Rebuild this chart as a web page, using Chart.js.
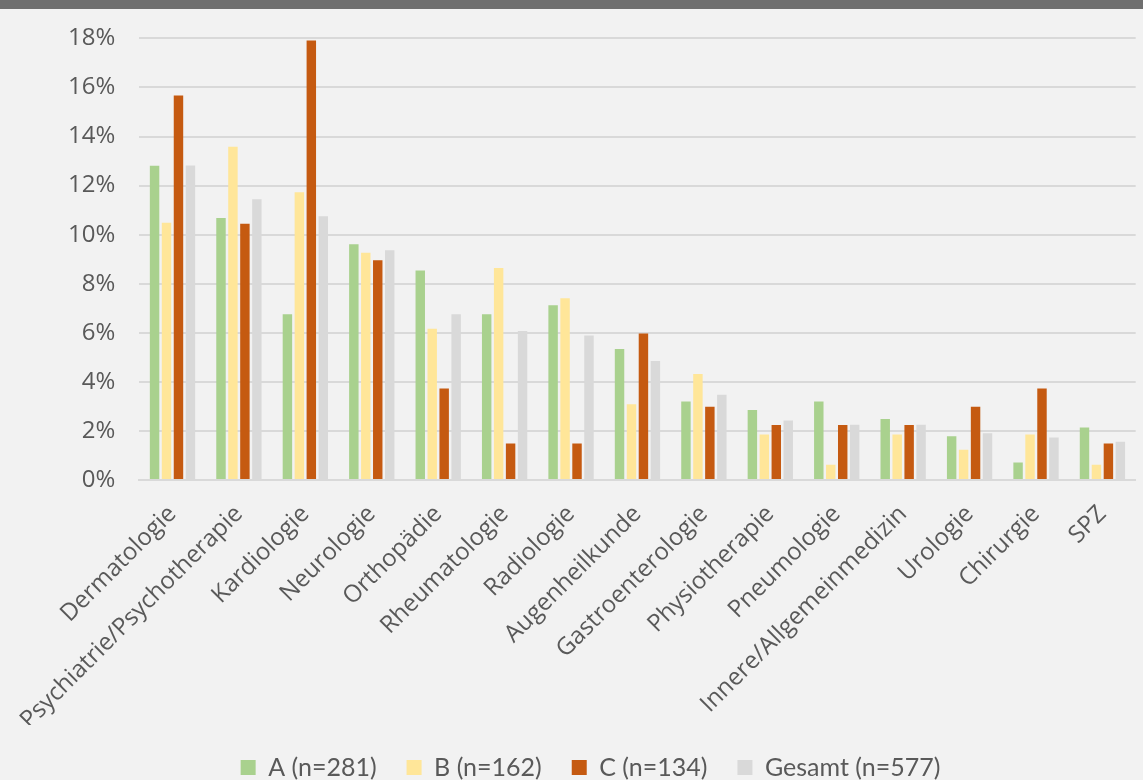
<!DOCTYPE html>
<html>
<head>
<meta charset="utf-8">
<script src="https://cdn.jsdelivr.net/npm/chart.js@4.4.1/dist/chart.umd.min.js"></script>
<style>
  html, body { margin: 0; padding: 0; background: #f2f2f2; }
  #wrap { position: relative; width: 1143px; height: 780px; overflow: hidden; }
  #band { position: absolute; left: 0; top: 0; width: 1143px; height: 9px; background: #6f6f6f; }
  #chart { position: absolute; left: 0; top: 0; }
</style>
</head>
<body>
<div id="wrap">
  <canvas id="chart" width="1143" height="780"></canvas>
  <div id="band"></div>
</div>
<script>
var categories = ['Dermatologie', 'Psychiatrie/Psychotherapie', 'Kardiologie', 'Neurologie', 'Orthopädie',
  'Rheumatologie', 'Radiologie', 'Augenheilkunde', 'Gastroenterologie', 'Physiotherapie',
  'Pneumologie', 'Innere/Allgemeinmedizin', 'Urologie', 'Chirurgie', 'SPZ']

// shares in percent per group
var groupA = [12.81, 10.68, 6.76, 9.61, 8.54, 6.76, 7.12, 5.34, 3.20, 2.85, 3.20, 2.49, 1.78, 0.71, 2.14]
var groupB = [10.49, 13.58, 11.73, 9.26, 6.17, 8.64, 7.41, 3.09, 4.32, 1.85, 0.62, 1.85, 1.23, 1.85, 0.62]
var groupC = [15.67, 10.45, 17.91, 8.96, 3.73, 1.49, 1.49, 5.97, 2.99, 2.24, 2.24, 2.24, 2.99, 3.73, 1.49]
var gesamt = [12.82, 11.44, 10.75, 9.36, 6.76, 6.07, 5.89, 4.85, 3.47, 2.43, 2.25, 2.25, 1.91, 1.73, 1.56]

var seriesLabels = ['A (n=281)', 'B (n=162)', 'C (n=134)', 'Gesamt (n=577)']
var seriesColors = ['#a9d18e', '#ffe699', '#c55a11', '#d9d9d9']

function drawChart () {
  var ctx = document.getElementById('chart').getContext('2d')

  var datasets = [groupA, groupB, groupC, gesamt].map(function (values, i) {
    return {
      label: seriesLabels[i],
      data: values,
      backgroundColor: seriesColors[i],
      borderWidth: 0,
      categoryPercentage: 0.72,
      barPercentage: 0.79
    }
  })

  return new Chart(ctx, {
    type: 'bar',
    data: { labels: categories, datasets: datasets },
    options: {
      responsive: false,
      animation: false,
      layout: { padding: { top: 28, left: 44, right: 6, bottom: -10 } },
      plugins: {
        tooltip: { enabled: false },
        legend: {
          position: 'bottom',
          labels: {
            font: { family: 'Lato', size: 25 },
            color: '#595959',
            boxWidth: 15,
            boxHeight: 15,
            padding: 30
          }
        }
      },
      scales: {
        x: {
          grid: { display: false, drawTicks: false },
          border: { color: '#d9d9d9', width: 2 },
          ticks: {
            font: { family: 'Open Sans', size: 24 },
            color: '#595959',
            minRotation: 45,
            maxRotation: 45,
            autoSkip: false,
            padding: 20
          },
          // leave room between the rotated names and the legend
          afterFit: function (scale) { scale.height = 245 }
        },
        y: {
          min: 0,
          max: 18,
          grid: { color: '#d9d9d9', lineWidth: 2, drawTicks: false },
          border: { display: false },
          ticks: {
            stepSize: 2,
            font: { family: 'Open Sans', size: 24 },
            color: '#595959',
            padding: 24,
            callback: function (v) { return v + '%' }
          }
        }
      }
    }
  })
}

Promise.all([
  document.fonts.load('24px "Open Sans"'),
  document.fonts.load('25px Lato')
]).then(drawChart, drawChart)
</script>
</body>
</html>
